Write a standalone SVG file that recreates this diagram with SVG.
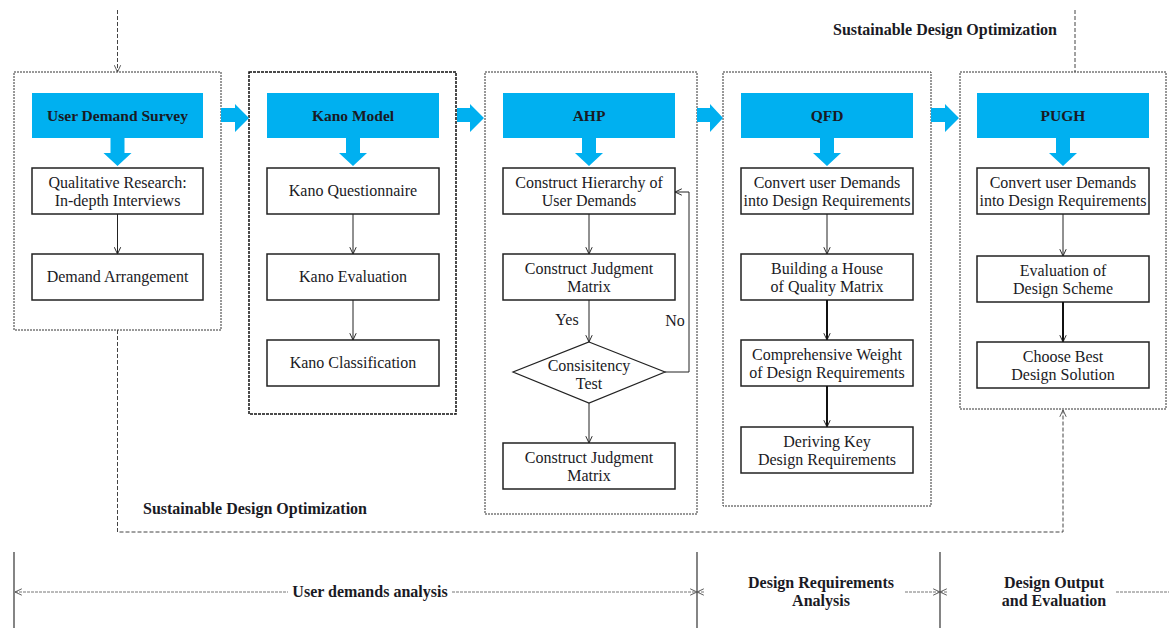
<svg xmlns="http://www.w3.org/2000/svg" width="1169" height="628" viewBox="0 0 1169 628">
<defs>
<style>
text{font-family:"Liberation Serif","Times New Roman",serif;fill:#1a1a24;text-anchor:middle}
.t{font-size:16px}
.b{font-size:15.5px;font-weight:bold}
.lb{font-size:16px;font-weight:bold}
.cont{fill:none;stroke:#333;stroke-width:1;stroke-dasharray:2 1}
.cont2{fill:none;stroke:#111;stroke-width:1.5;stroke-dasharray:3 1}
.hdr{fill:#00B0F0}
.box{fill:#fff;stroke:#222;stroke-width:1.5}
.ln{fill:none;stroke:#222;stroke-width:1}
.lnb{fill:none;stroke:#111;stroke-width:2}
.dash{fill:none;stroke:#444;stroke-width:1;stroke-dasharray:4 2}
.dot{fill:none;stroke:#777;stroke-width:1;stroke-dasharray:3 1}
.solid{fill:none;stroke:#333;stroke-width:1.2}
.blue{fill:#00B0F0}
</style>
<marker id="ah" viewBox="0 0 10 10" refX="9.5" refY="5" markerWidth="8" markerHeight="8" markerUnits="userSpaceOnUse" orient="auto">
<path d="M1,1 L9.5,5 L1,9" fill="none" stroke="#222" stroke-width="1.2"/>
</marker>
<marker id="ahg" viewBox="0 0 10 10" refX="9.5" refY="5" markerWidth="8" markerHeight="8" markerUnits="userSpaceOnUse" orient="auto-start-reverse">
<path d="M1,1 L9.5,5 L1,9" fill="none" stroke="#555" stroke-width="1.2"/>
</marker>
</defs>

<g id="stage-survey">
<rect class="cont" x="14" y="72" width="207" height="258"/>
<rect class="hdr" x="32" y="93" width="171" height="45"/>
<text class="b" x="117.5" y="121">User Demand Survey</text>
<polygon class="blue" points="110.5,138 124.5,138 124.5,153 131.5,153 117.5,166 103.5,153 110.5,153"/>
<g id="n-qual"><rect class="box" x="32" y="168" width="171" height="46"/>
<text class="t" x="117.5" y="188">Qualitative Research:</text>
<text class="t" x="117.5" y="206">In-depth Interviews</text></g>
<g id="n-arr"><rect class="box" x="32" y="254" width="171" height="46"/>
<text class="t" x="117.5" y="282">Demand Arrangement</text></g>
</g>

<g id="stage-kano">
<rect class="cont2" x="249" y="72" width="207" height="342"/>
<rect class="hdr" x="267" y="93" width="172" height="45"/>
<text class="b" x="353" y="121">Kano Model</text>
<polygon class="blue" points="346,138 360,138 360,153 367,153 353,166 339,153 346,153"/>
<g id="n-kq"><rect class="box" x="267" y="168" width="172" height="46"/>
<text class="t" x="353" y="196">Kano Questionnaire</text></g>
<g id="n-ke"><rect class="box" x="267" y="254" width="172" height="46"/>
<text class="t" x="353" y="282">Kano Evaluation</text></g>
<g id="n-kc"><rect class="box" x="267" y="340" width="172" height="46"/>
<text class="t" x="353" y="368">Kano Classification</text></g>
</g>

<g id="stage-ahp">
<rect class="cont" x="485" y="72" width="212" height="442"/>
<rect class="hdr" x="503" y="93" width="172" height="45"/>
<text class="b" x="589" y="121">AHP</text>
<polygon class="blue" points="582,138 596,138 596,153 603,153 589,166 575,153 582,153"/>
<g id="n-ch"><rect class="box" x="503" y="168" width="172" height="46"/>
<text class="t" x="589" y="188">Construct Hierarchy of</text>
<text class="t" x="589" y="206">User Demands</text></g>
<g id="n-cj1"><rect class="box" x="503" y="254" width="172" height="46"/>
<text class="t" x="589" y="274">Construct Judgment</text>
<text class="t" x="589" y="292">Matrix</text></g>
<g id="n-ct"><polygon class="box" points="589,342 665,372 589,403 513,372" style="stroke-width:1.2"/>
<text class="t" x="589" y="371">Consisitency</text>
<text class="t" x="589" y="389">Test</text></g>
<g id="n-cj2"><rect class="box" x="503" y="443" width="172" height="46"/>
<text class="t" x="589" y="463">Construct Judgment</text>
<text class="t" x="589" y="481">Matrix</text></g>
</g>

<g id="stage-qfd">
<rect class="cont" x="723" y="72" width="208" height="434"/>
<rect class="hdr" x="741" y="93" width="172" height="45"/>
<text class="b" x="827" y="121">QFD</text>
<polygon class="blue" points="820,138 834,138 834,153 841,153 827,166 813,153 820,153"/>
<g id="n-q1"><rect class="box" x="741" y="168" width="172" height="46"/>
<text class="t" x="827" y="188">Convert user Demands</text>
<text class="t" x="827" y="206">into Design Requirements</text></g>
<g id="n-q2"><rect class="box" x="741" y="254" width="172" height="46"/>
<text class="t" x="827" y="274">Building a House</text>
<text class="t" x="827" y="292">of Quality Matrix</text></g>
<g id="n-q3"><rect class="box" x="741" y="340" width="172" height="46"/>
<text class="t" x="827" y="360">Comprehensive Weight</text>
<text class="t" x="827" y="378">of Design Requirements</text></g>
<g id="n-q4"><rect class="box" x="741" y="427" width="172" height="46"/>
<text class="t" x="827" y="447">Deriving Key</text>
<text class="t" x="827" y="465">Design Requirements</text></g>
</g>

<g id="stage-pugh">
<rect class="cont" x="960" y="72" width="206" height="337"/>
<rect class="hdr" x="977" y="93" width="172" height="45"/>
<text class="b" x="1063" y="121">PUGH</text>
<polygon class="blue" points="1056,138 1070,138 1070,153 1077,153 1063,166 1049,153 1056,153"/>
<g id="n-p1"><rect class="box" x="977" y="168" width="172" height="46"/>
<text class="t" x="1063" y="188">Convert user Demands</text>
<text class="t" x="1063" y="206">into Design Requirements</text></g>
<g id="n-p2"><rect class="box" x="977" y="256" width="172" height="46"/>
<text class="t" x="1063" y="276">Evaluation of</text>
<text class="t" x="1063" y="294">Design Scheme</text></g>
<g id="n-p3"><rect class="box" x="977" y="342" width="172" height="46"/>
<text class="t" x="1063" y="362">Choose Best</text>
<text class="t" x="1063" y="380">Design Solution</text></g>
</g>

<g id="connectors">
<polygon class="blue" points="221,108 235,108 235,104 249,118 235,132 235,122 221,122"/>
<polygon class="blue" points="457,108 470,108 470,104 484,118 470,132 470,122 457,122"/>
<polygon class="blue" points="697,108 710,108 710,104 723,118 710,132 710,122 697,122"/>
<polygon class="blue" points="931,108 945,108 945,104 959,118 945,132 945,122 931,122"/>

<line class="ln" x1="117.5" y1="214" x2="117.5" y2="254" marker-end="url(#ah)"/>
<line class="ln" x1="353" y1="214" x2="353" y2="254" marker-end="url(#ah)"/>
<line class="ln" x1="353" y1="300" x2="353" y2="340" marker-end="url(#ah)"/>
<line class="ln" x1="589" y1="214" x2="589" y2="254" marker-end="url(#ah)"/>
<line class="ln" x1="589" y1="300" x2="589" y2="342" marker-end="url(#ah)"/>
<line class="ln" x1="589" y1="403" x2="589" y2="443" marker-end="url(#ah)"/>
<polyline class="ln" points="665,372 689,372 689,192 675,192" marker-end="url(#ah)"/>
<text class="t" x="567" y="325">Yes</text>
<text class="t" x="675" y="326">No</text>
<line class="ln" x1="827" y1="214" x2="827" y2="254" marker-end="url(#ah)"/>
<line class="lnb" x1="827" y1="300" x2="827" y2="340" marker-end="url(#ah)"/>
<line class="lnb" x1="827" y1="386" x2="827" y2="427" marker-end="url(#ah)"/>
<line class="ln" x1="1063" y1="214" x2="1063" y2="256" marker-end="url(#ah)"/>
<line class="lnb" x1="1063" y1="302" x2="1063" y2="342" marker-end="url(#ah)"/>

<line class="dash" x1="117.5" y1="10" x2="117.5" y2="72" marker-end="url(#ahg)"/>
<line class="dash" x1="1075" y1="10" x2="1075" y2="72"/>
<polyline class="dash" points="117.5,330 117.5,532 1063,532 1063,410" marker-end="url(#ahg)"/>
<text class="lb" x="945" y="35">Sustainable Design Optimization</text>
<text class="lb" x="255" y="514">Sustainable Design Optimization</text>
</g>

<g id="phases">
<line class="solid" x1="14" y1="552" x2="14" y2="628"/>
<line class="solid" x1="697" y1="552" x2="697" y2="628"/>
<line class="solid" x1="940" y1="552" x2="940" y2="628"/>
<line class="dot" x1="15" y1="592" x2="288" y2="592" marker-start="url(#ahg)"/>
<line class="dot" x1="452" y1="592" x2="697" y2="592" marker-end="url(#ahg)"/>
<line class="dot" x1="697" y1="592" x2="704" y2="592" marker-start="url(#ahg)"/>
<line class="dot" x1="905" y1="592" x2="940" y2="592" marker-end="url(#ahg)"/>
<line class="dot" x1="940" y1="592" x2="947" y2="592" marker-start="url(#ahg)"/>
<line class="dot" x1="1116" y1="592" x2="1169" y2="592"/>
<text class="lb" x="370" y="597">User demands analysis</text>
<text class="lb" x="821" y="588">Design Requirements</text>
<text class="lb" x="821" y="606">Analysis</text>
<text class="lb" x="1054" y="588">Design Output</text>
<text class="lb" x="1054" y="606">and Evaluation</text>
</g>
</svg>
